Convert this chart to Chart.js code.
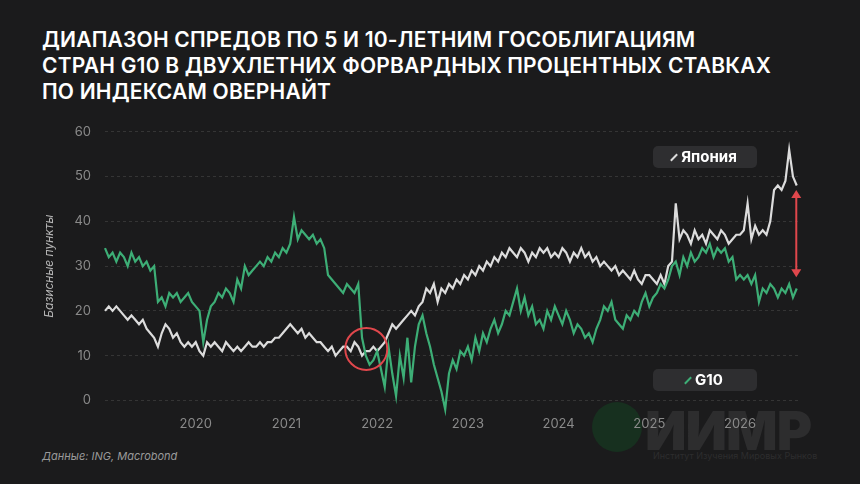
<!DOCTYPE html>
<html><head><meta charset="utf-8">
<script src="https://cdn.jsdelivr.net/npm/chart.js@4"></script>
<style>
body{margin:0;background:#1b1b1c;width:860px;height:484px;overflow:hidden;position:relative;font-family:Inter,"Noto Sans",sans-serif}
#title{position:absolute;left:42px;top:27px;color:#fff;font-size:21px;font-weight:600;line-height:26px;letter-spacing:0.2px}
#wrap{position:absolute;left:0;top:110px;width:860px;height:330px}
.tag{position:absolute;left:653px;width:104px;height:22px;background:#2e2e30;border-radius:5px;color:#fff;font-weight:700;font-size:15px;line-height:22px;text-align:center}
.tag i{display:inline-block;width:2px;height:9px;transform:rotate(45deg);margin-right:6px}
#logo{position:absolute;left:645px;top:398px;color:#2d2d2e;font-size:54px;font-weight:900;letter-spacing:-1px}
#logosub{position:absolute;left:653px;top:450px;color:#2d2d2e;font-size:9px}
#globe{position:absolute;left:592px;top:402px;width:50px;height:50px;border-radius:50%;background:#17301f}
#src{position:absolute;left:42px;top:449px;color:#9a9a9a;font-size:11px;font-style:italic}
</style></head><body>
<div id="globe"></div><div id="logo">ИИМР</div><div id="logosub">Институт Изучения Мировых Рынков</div>
<div id="title">ДИАПАЗОН СПРЕДОВ ПО 5 И 10-ЛЕТНИМ ГОСОБЛИГАЦИЯМ<br>СТРАН G10 В ДВУХЛЕТНИХ ФОРВАРДНЫХ ПРОЦЕНТНЫХ СТАВКАХ<br>ПО ИНДЕКСАМ ОВЕРНАЙТ</div>
<div id="wrap"><canvas id="c"></canvas></div>
<div class="tag" style="top:146px"><i style="background:#ddd"></i>Япония</div>
<div class="tag" style="top:369px"><i style="background:#3dae76"></i>G10</div>
<div id="src">Данные: ING, Macrobond</div>
<script>
const startYear = 2019.0;
const stepsPerYear = 24;
const japan = [
  20,21,20,21,20,19,18,19,18,17,18,16,15,14,12,15,17,16,14,15,13,12,13,12,
  13,11,10,13,12,13,12,11,13,12,11,12,11,12,13,12,12,13,12,13,13,14,14,15,
  16,17,16,15,16,14,15,14,13,13,12,11,12,10,11,12,12,11,13,12,10,11,11,12,
  11,12,13,15,17,16,17,18,19,20,19,21,22,25,24,26,22,25,24,26,25,27,26,28,
  27,29,28,30,29,31,30,32,31,33,32,34,33,32,34,33,31,33,32,34,33,34,32,33,
  32,34,33,31,33,32,34,32,33,31,32,30,31,30,29,30,28,29,28,27,29,27,26,28,
  28,27,26,28,26,30,31,44,36,38,37,35,38,36,37,35,38,37,36,38,37,35,36,37,
  37,38,44,36,39,37,38,37,40,47,48,47,49,56,50,48
];
const g10 = [
  34,32,33,31,33,32,30,33,31,32,30,31,29,30,22,23,21,24,23,24,22,23,24,22,
  21,20,13,18,21,22,24,23,25,24,22,27,25,30,28,29,30,31,30,32,31,33,32,34,
  33,35,41,36,38,37,36,37,35,36,34,28,27,26,25,24,26,25,24,26,14,10,8,9,
  11,7,3,12,6,1,10,5,14,4,12,17,19,15,12,8,5,2,-2,6,9,7,11,10,
  12,9,14,11,15,13,16,18,15,17,20,19,22,25,20,23,19,21,17,18,16,20,18,21,
  19,17,20,18,15,17,16,14,15,13,16,18,21,20,22,18,17,16,19,18,20,19,22,24,
  21,23,24,26,25,27,30,31,28,32,30,33,31,32,34,33,35,32,34,33,34,31,32,27,
  28,27,28,26,28,22,25,24,26,25,23,25,24,26,23,25
];
const yearTicks = [2020, 2021, 2022, 2023, 2024, 2025, 2026];
const circleAt = {x: 2021.88, y: 11.5};
const gapArrow = {x: 2026.62, from: 47, to: 27.5};

const toPoints = arr => arr.map((v, i) => ({x: startYear + i / stepsPerYear, y: v}));

const marks = {
  id: 'marks',
  afterDatasetsDraw(chart) {
    const {ctx, scales: {x, y}} = chart;
    ctx.save();
    ctx.strokeStyle = '#e0474c';
    ctx.lineWidth = 2;
    ctx.beginPath();
    ctx.arc(x.getPixelForValue(circleAt.x), y.getPixelForValue(circleAt.y), 21, 0, Math.PI * 2);
    ctx.stroke();
    const ax = x.getPixelForValue(gapArrow.x), y1 = y.getPixelForValue(gapArrow.from), y2 = y.getPixelForValue(gapArrow.to);
    ctx.beginPath(); ctx.moveTo(ax, y1 + 4); ctx.lineTo(ax, y2 - 4); ctx.stroke();
    ctx.fillStyle = '#e0474c';
    ctx.beginPath(); ctx.moveTo(ax, y1); ctx.lineTo(ax - 5, y1 + 8); ctx.lineTo(ax + 5, y1 + 8); ctx.fill();
    ctx.beginPath(); ctx.moveTo(ax, y2); ctx.lineTo(ax - 5, y2 - 8); ctx.lineTo(ax + 5, y2 - 8); ctx.fill();
    ctx.restore();
  }
};

new Chart(document.getElementById('c'), {
  type: 'line',
  data: {
    datasets: [
      {label: 'G10', data: toPoints(g10), borderColor: '#3dae76', borderWidth: 2.2, pointRadius: 0, tension: 0},
      {label: 'Япония', data: toPoints(japan), borderColor: '#dcdcdc', borderWidth: 2.2, pointRadius: 0, tension: 0}
    ]
  },
  options: {
    animation: false,
    responsive: true,
    maintainAspectRatio: false,
    clip: false,
    layout: {padding: {left: 38, right: 61, top: 8, bottom: 0}},
    plugins: {legend: {display: false}, tooltip: {enabled: false}},
    scales: {
      x: {
        type: 'linear', min: 2019.0, max: 2026.65,
        grid: {display: false}, border: {display: false},
        afterBuildTicks: s => { s.ticks = yearTicks.map(v => ({value: v})); },
        ticks: {color: '#8a8a8a', font: {size: 13, family: 'Inter'}, padding: 8,
          callback: v => String(v)}
      },
      y: {
        min: 0, max: 60,
        grid: {color: '#353535', drawTicks: false}, border: {display: false, dash: [3, 3]},
        ticks: {stepSize: 10, color: '#8a8a8a', font: {size: 13, family: 'Inter'}, padding: 14},
        title: {display: true, text: 'Базисные пункты', color: '#b5b5b5', font: {size: 12, style: 'italic', family: 'Inter'}}
      }
    }
  },
  plugins: [marks]
});
</script>
</body></html>
